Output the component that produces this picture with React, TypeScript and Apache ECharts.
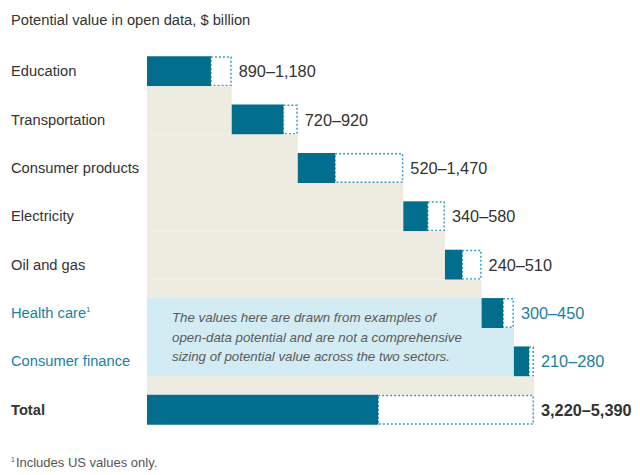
import React, { useEffect, useRef } from "react";
import * as echarts from "echarts";

const title = "Potential value in open data, $ billion";
const categories = [
  "Education",
  "Transportation",
  "Consumer products",
  "Electricity",
  "Oil and gas",
  "Health care",
  "Consumer finance",
  "Total",
];
const lowValues = [890, 720, 520, 340, 240, 300, 210, 3220];
const highValues = [1180, 920, 1470, 580, 510, 450, 280, 5390];
const noteRows = [5, 6];
const noteLines = [
  "The values here are drawn from examples of",
  "open-data potential and are not a comprehensive",
  "sizing of potential value across the two sectors.",
];
const footnote = "Includes US values only.";

const TEAL = "#006e8c";
const DOT = "#3c9dc0";
const BEIGE = "#eeebe1";
const BLUE = "#d3ebf3";
const TEXT = "#333333";
const HL = "#1a7fa6";
const FONT = "'Liberation Sans', Arial, Helvetica, sans-serif";

const fmt = (v: number) => v.toLocaleString("en-US");

export default function App() {
  const ref = useRef<HTMLDivElement>(null);
  useEffect(() => {
    if (!ref.current) return;
    const chart = echarts.init(ref.current, undefined, { renderer: "svg" });
    const last = categories.length - 1;
    const total = highValues[last];
    const data: number[][] = [];
    let cum = 0;
    categories.forEach((_, i) => {
      if (i < last) {
        data.push([i, cum, lowValues[i], highValues[i], cum]);
        cum += highValues[i];
      } else {
        data.push([i, 0, lowValues[i], highValues[i], cum]);
      }
    });

    const renderItem = (params: any, api: any) => {
      const i = api.value(0);
      const start = api.value(1);
      const low = api.value(2);
      const high = api.value(3);
      const shade = api.value(4);
      const band = api.size([0, 1])[1];
      const h = band * 0.62;
      const c = api.coord([start, i]);
      const cy = c[1];
      const x0 = api.coord([0, i])[0];
      const xs = c[0];
      const xl = api.coord([start + low, i])[0];
      const xh = api.coord([start + high, i])[0];
      const children: any[] = [];
      if (i > 0) {
        const prevBottom = api.coord([0, i - 1])[1] + h / 2;
        const yBot = i < last ? cy + h / 2 : cy - h / 2;
        const xw = api.coord([shade, i])[0];
        children.push({
          type: "rect",
          shape: { x: x0, y: prevBottom, width: xw - x0, height: yBot - prevBottom },
          style: { fill: BEIGE },
        });
        if (noteRows.includes(i)) {
          const isFirst = !noteRows.includes(i - 1);
          const yTop = isFirst ? cy - h / 2 : prevBottom;
          children.push({
            type: "rect",
            shape: { x: x0, y: yTop, width: xw - x0, height: cy + h / 2 - yTop },
            style: { fill: BLUE },
          });
        }
      }
      children.push({
        type: "rect",
        shape: { x: xl, y: cy - h / 2 + 0.75, width: xh - xl - 0.75, height: h - 1.5 },
        style: { fill: "#ffffff", stroke: DOT, lineWidth: 1.5, lineDash: [2, 2] },
      });
      children.push({
        type: "rect",
        shape: { x: xs, y: cy - h / 2, width: xl - xs, height: h },
        style: { fill: TEAL },
      });
      const isTotal = i === last;
      const isNote = noteRows.includes(i);
      children.push({
        type: "text",
        x: xh + 7,
        y: cy,
        style: {
          text: `${fmt(low)}–${fmt(high)}`,
          fill: isNote ? HL : TEXT,
          font: `${isTotal ? "bold " : ""}16.3px ${FONT}`,
          verticalAlign: "middle",
          align: "left",
        },
      });
      return { type: "group", children };
    };

    chart.setOption({
      animation: false,
      grid: { left: 147, right: 106, top: 47, bottom: 41 },
      xAxis: { type: "value", min: 0, max: total, show: false },
      yAxis: {
        type: "category",
        data: categories,
        inverse: true,
        axisLine: { show: false },
        axisTick: { show: false },
        splitLine: { show: false },
        axisLabel: {
          align: "left",
          margin: 136,
          fontFamily: FONT,
          fontSize: 14.7,
          color: TEXT,
          formatter: (v: string, idx: number) => {
            if (idx === last) return `{b|${v}}`;
            if (idx === 5) return `{h|${v}}{s|1}`;
            if (noteRows.includes(idx)) return `{h|${v}}`;
            return `{n|${v}}`;
          },
          rich: {
            n: { fontFamily: FONT, fontSize: 14.7, color: TEXT },
            b: { fontFamily: FONT, fontSize: 14.7, color: TEXT, fontWeight: "bold" },
            h: { fontFamily: FONT, fontSize: 14.7, color: HL },
            s: { fontFamily: FONT, fontSize: 8, color: HL, padding: [0, 0, 7, 0] },
          },
        },
      },
      graphic: [
        {
          type: "text",
          left: 11,
          top: 12,
          z: 100,
          style: { text: title, font: `14.7px ${FONT}`, fill: TEXT },
        },
        {
          type: "text",
          left: 172,
          top: 308,
          z: 100,
          style: {
            text: noteLines.join("\n"),
            font: `italic 13.3px ${FONT}`,
            lineHeight: 19.5,
            fill: "#5a5a5a",
          },
        },
        {
          type: "text",
          left: 11,
          top: 456,
          z: 100,
          style: {
            text: `{s|1}{t|${footnote}}`,
            rich: {
              s: { fontFamily: FONT, fontSize: 7, fill: "#555555", padding: [0, 1, 6, 0] },
              t: { fontFamily: FONT, fontSize: 13, fill: "#555555" },
            },
          },
        },
      ],
      series: [
        {
          type: "custom",
          renderItem,
          data,
          clip: false,
          silent: true,
          encode: { x: [1, 3], y: 0 },
        },
      ],
    });
    return () => chart.dispose();
  }, []);
  return (
    <div
      ref={ref}
      style={{ position: "fixed", left: 0, top: 0, width: 640, height: 475, background: "#fff" }}
    />
  );
}
